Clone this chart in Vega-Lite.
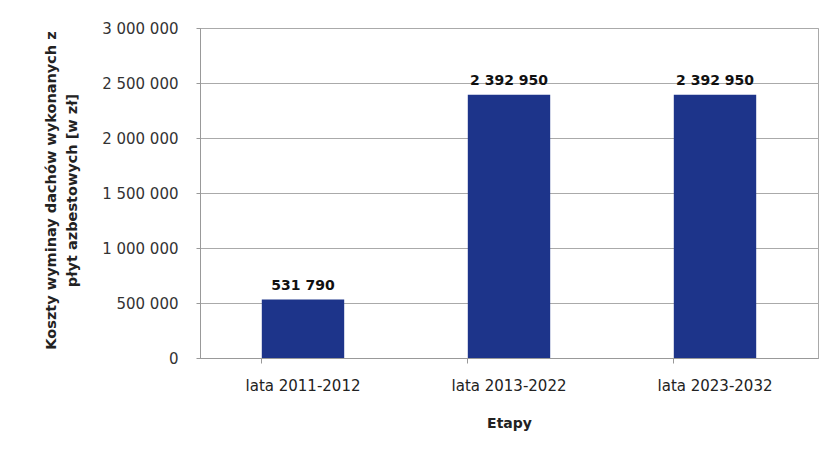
{
  "$schema": "https://vega.github.io/schema/vega-lite/v6.json",
  "width": 618,
  "height": 330,
  "autosize": {"type": "none"},
  "padding": {"left": 200, "top": 28, "right": 11, "bottom": 95},
  "background": "#ffffff",
  "config": {
    "locale": {"number": {"decimal": ",", "thousands": " ", "grouping": [3], "currency": ["", " zł"]}},
    "view": {"stroke": "#a9a9a9", "strokeWidth": 1},
    "font": "DejaVu Sans"
  },
  "data": {
    "values": [
      {"etap": "lata 2011-2012", "koszt": 531790},
      {"etap": "lata 2013-2022", "koszt": 2392950},
      {"etap": "lata 2023-2032", "koszt": 2392950}
    ]
  },
  "encoding": {
    "x": {
      "field": "etap",
      "type": "nominal",
      "sort": null,
      "scale": {"paddingInner": 0.6, "paddingOuter": 0.3},
      "axis": {
        "title": "Etapy",
        "titleFont": "DejaVu Sans",
        "titleFontSize": 14,
        "titleFontWeight": "bold",
        "titleColor": "#222",
        "titleY": 65,
        "titleBaseline": "middle",
        "labelAngle": 0,
        "labelFont": "DejaVu Sans",
        "labelFontSize": 15,
        "labelColor": "#222",
        "labelPadding": 15,
        "bandPosition": 0,
        "ticks": true,
        "tickSize": 5,
        "tickColor": "#999",
        "domainColor": "#999",
        "grid": false
      }
    },
    "y": {
      "field": "koszt",
      "type": "quantitative",
      "scale": {"domain": [0, 3000000], "nice": false},
      "axis": {
        "title": ["Koszty wyminay dachów wykonanych z", "płyt azbestowych [w zł]"],
        "titleFont": "DejaVu Sans",
        "titleFontSize": 14.5,
        "titleFontWeight": "bold",
        "titleColor": "#222",
        "titleX": -149,
        "titleY": 162,
        "titleAnchor": "middle",
        "titleAlign": "center",
        "titleBaseline": "middle",
        "titleLineHeight": 21,
        "values": [0, 500000, 1000000, 1500000, 2000000, 2500000, 3000000],
        "format": ",d",
        "labelFont": "DejaVu Sans",
        "labelFontSize": 15,
        "labelColor": "#333",
        "labelPadding": 18,
        "tickSize": 4,
        "tickColor": "#999",
        "domainColor": "#999",
        "gridColor": "#aaaaaa",
        "gridWidth": 1
      }
    }
  },
  "layer": [
    {"mark": {"type": "bar", "color": "#1d348a"}},
    {
      "mark": {"type": "text", "baseline": "alphabetic", "dy": -10, "font": "DejaVu Sans", "fontSize": 14, "fontWeight": "bold", "color": "#111"},
      "encoding": {"text": {"field": "koszt", "type": "quantitative", "format": ",d"}}
    }
  ]
}
